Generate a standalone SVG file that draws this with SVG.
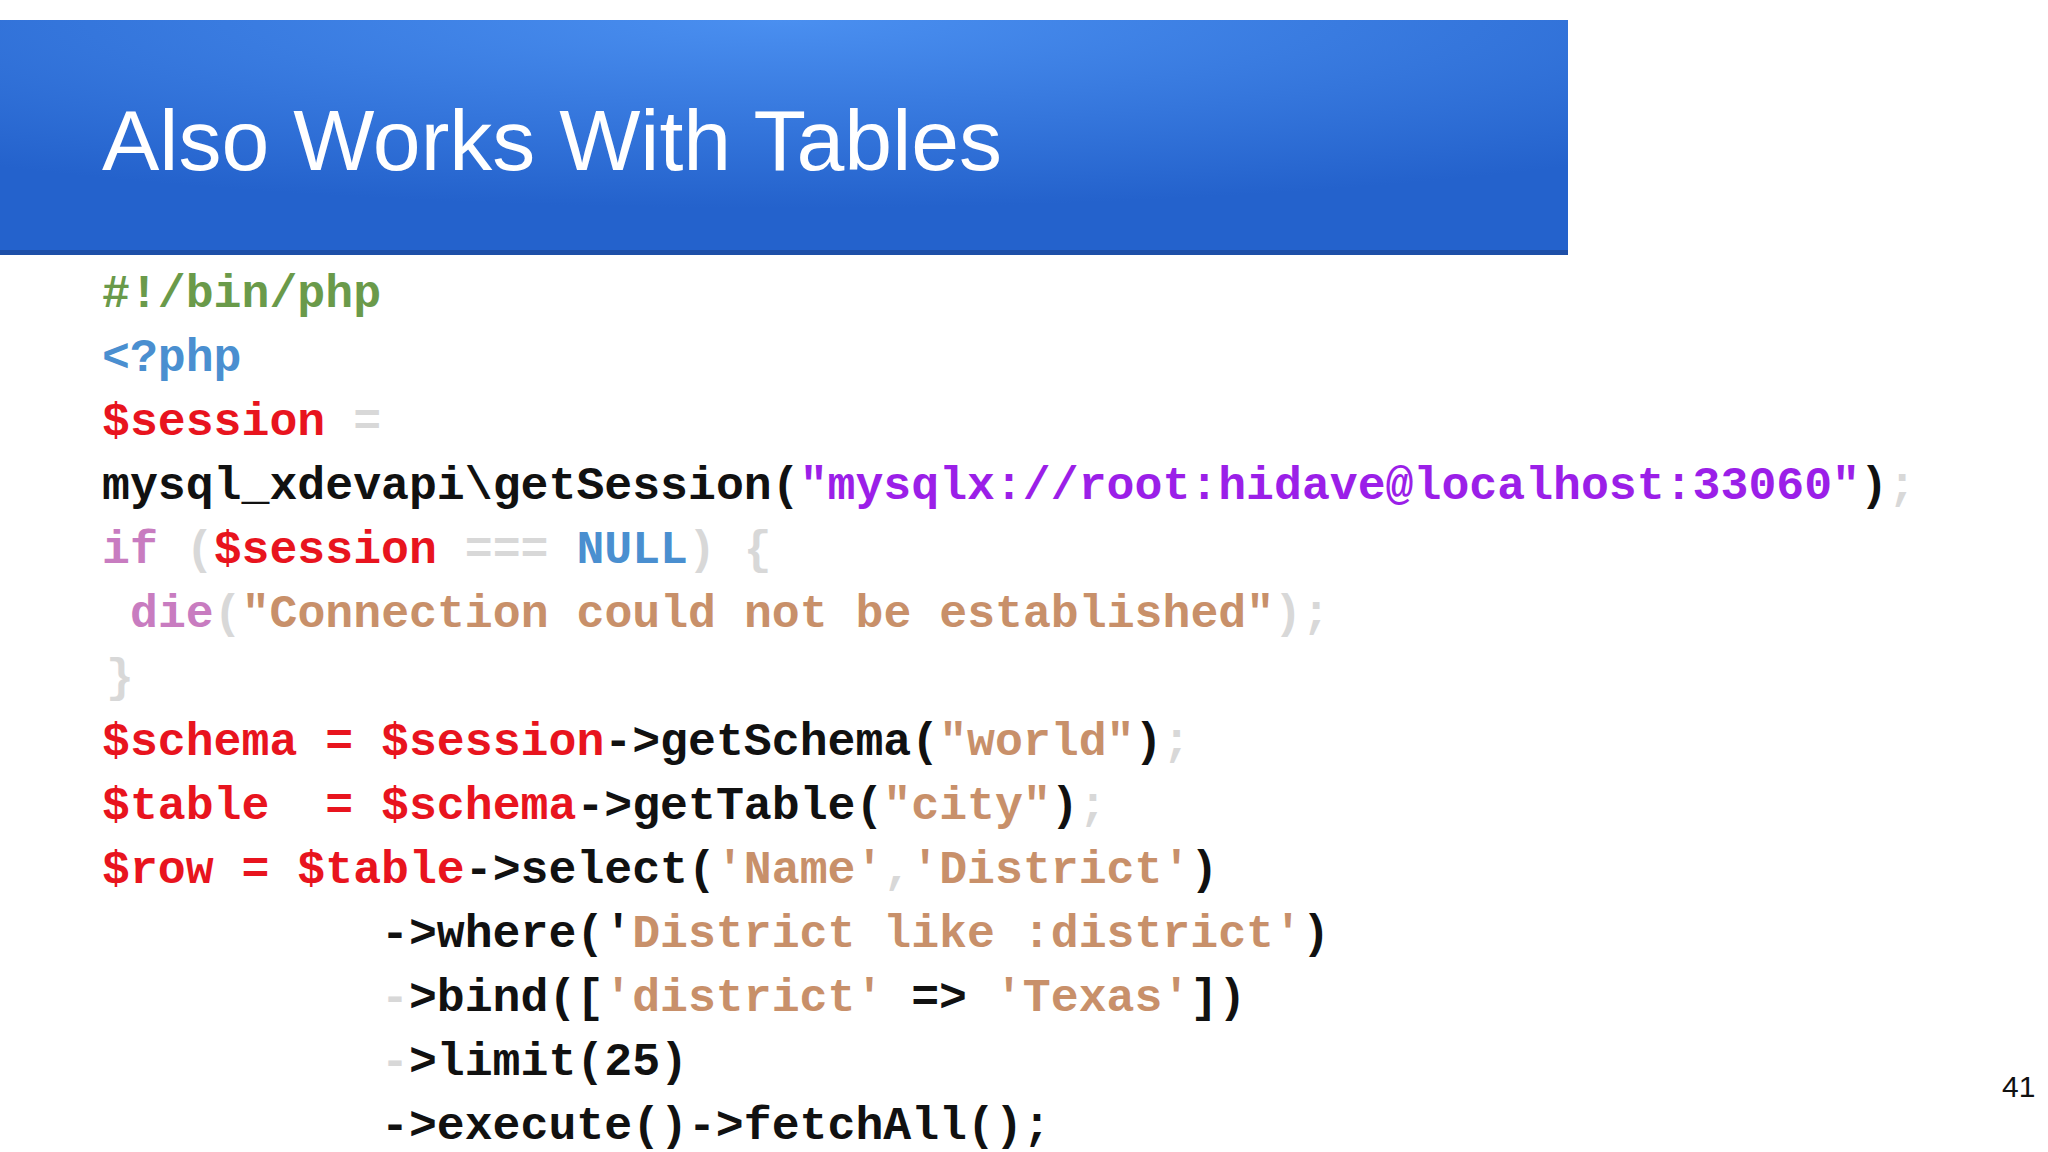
<svg xmlns="http://www.w3.org/2000/svg" width="2048" height="1152" viewBox="0 0 2048 1152">
<defs>
<radialGradient id="hg" cx="0.5" cy="0" r="0.8">
<stop offset="0" stop-color="#4a8ff0"/>
<stop offset="1" stop-color="#2462cc"/>
</radialGradient>
</defs>
<style>
.c{font-family:"Liberation Mono",monospace;font-weight:bold;font-size:46.5px;fill:#111;white-space:pre}
.r{fill:#e8141e}.g{fill:#d8d8d8}.gr{fill:#6a9a4a}.b{fill:#4a8fd0}.p{fill:#9b1fe8}.pk{fill:#c87cc0}.t{fill:#c8906a}
</style>
<rect width="2048" height="1152" fill="#fff"/>
<g id="header">
<rect x="0" y="20" width="1568" height="235" fill="url(#hg)"/>
<rect x="0" y="250" width="1568" height="5" fill="#1d4fa8"/>
<text x="102" y="170" font-family="Liberation Sans,Arial,sans-serif" font-size="86" fill="#fff">Also Works With Tables</text>
</g>
<g id="code" class="c">
<text x="102" y="307"><tspan class="gr">#!/bin/php</tspan></text>
<text x="102" y="371"><tspan class="b">&lt;?php</tspan></text>
<text x="102" y="435" xml:space="preserve"><tspan class="r">$session</tspan> <tspan class="g">=</tspan></text>
<text x="102" y="499">mysql_xdevapi\getSession(<tspan class="p">"mysqlx://root:hidave@localhost:33060"</tspan>)<tspan class="g">;</tspan></text>
<text x="102" y="563" xml:space="preserve"><tspan class="pk">if</tspan> <tspan class="g">(</tspan><tspan class="r">$session</tspan> <tspan class="g">===</tspan> <tspan class="b">NULL</tspan><tspan class="g">)</tspan> <tspan class="g">{</tspan></text>
<text x="130" y="627" xml:space="preserve"><tspan class="pk">die</tspan><tspan class="g">(</tspan><tspan class="t">"Connection could not be established"</tspan><tspan class="g">);</tspan></text>
<text x="106" y="691"><tspan class="g">}</tspan></text>
<text x="102" y="755" xml:space="preserve"><tspan class="r">$schema</tspan> <tspan class="r">=</tspan> <tspan class="r">$session</tspan>-&gt;getSchema(<tspan class="t">"world"</tspan>)<tspan class="g">;</tspan></text>
<text x="102" y="819" xml:space="preserve"><tspan class="r">$table</tspan>  <tspan class="r">=</tspan> <tspan class="r">$schema</tspan>-&gt;getTable(<tspan class="t">"city"</tspan>)<tspan class="g">;</tspan></text>
<text x="102" y="883" xml:space="preserve"><tspan class="r">$row</tspan> <tspan class="r">=</tspan> <tspan class="r">$table</tspan>-&gt;select(<tspan class="t">'Name'</tspan><tspan class="g">,</tspan><tspan class="t">'District'</tspan>)</text>
<text x="381" y="947" xml:space="preserve">-&gt;where('<tspan class="t">District like :district'</tspan>)</text>
<text x="381" y="1011" xml:space="preserve"><tspan class="g">-</tspan>&gt;bind([<tspan class="t">'district'</tspan> =&gt; <tspan class="t">'Texas'</tspan>])</text>
<text x="381" y="1075"><tspan class="g">-</tspan>&gt;limit(25)</text>
<text x="381" y="1139">-&gt;execute()-&gt;fetchAll();</text>
</g>
<text x="2002" y="1097" font-family="Liberation Sans,Arial,sans-serif" font-size="30" fill="#111">41</text>
</svg>
